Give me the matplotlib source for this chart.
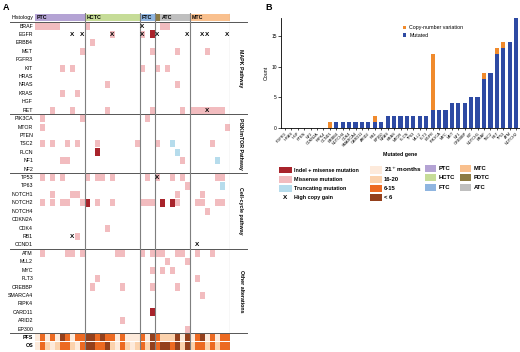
import matplotlib
matplotlib.use("Agg")
import matplotlib.pyplot as plt
from matplotlib.patches import Rectangle

plt.rcParams['font.family'] = ['Liberation Sans', 'DejaVu Sans']

W, H = 520, 352

# ---- panel A data ----
genes = ["BRAF", "EGFR", "ERBB4", "MET", "FGFR3", "KIT", "HRAS", "NRAS", "KRAS", "HGF", "RET",
         "PIK3CA", "MTOR", "PTEN", "TSC2", "FLCN", "NF1", "NF2",
         "TP53", "TP63", "NOTCH1", "NOTCH2", "NOTCH4", "CDKN2A", "CDK4", "RB1", "CCND1",
         "ATM", "MLL2", "MYC", "FLT3", "CREBBP", "SMARCA4", "RIPK4", "CARD11", "ARID2", "EP300"]
pathways = ["MAPK Pathway", "PI3K/mTOR Pathway", "Cell-cycle pathway", "Other alterations"]
pathway_sizes = [11, 7, 9, 10]
histology = ["PTC", "HCTC", "FTC", "PDTC", "ATC", "MTC"]
histology_n = [10, 11, 3, 1, 6, 8]

# sample columns with each alteration
missense = {
    "BRAF": [0, 1, 2, 3, 4, 10, 25, 26],
    "EGFR": [15, 21],
    "ERBB4": [11],
    "MET": [9, 23, 28, 34],
    "KIT": [5, 7, 21, 24, 26],
    "NRAS": [14, 28],
    "KRAS": [5, 8],
    "RET": [3, 7, 14, 23, 29, 31, 32, 33, 34, 35, 36, 37],
    "PIK3CA": [1, 9, 22],
    "MTOR": [1, 38],
    "TSC2": [1, 3, 6, 8, 12, 20, 24, 35],
    "NF1": [5, 6, 29],
    "TP53": [1, 3, 5, 10, 12, 13, 15, 22, 24, 27, 29, 36, 37],
    "TP63": [30],
    "NOTCH1": [3, 7, 8, 28, 33],
    "NOTCH2": [1, 3, 5, 6, 9, 12, 15, 21, 22, 23, 28, 32, 33, 36, 37],
    "NOTCH4": [34],
    "CDK4": [14],
    "RB1": [8],
    "ATM": [1, 6, 7, 9, 16, 17, 21, 23, 24, 25, 28, 29, 32, 35],
    "MLL2": [26, 30],
    "MYC": [23, 25, 27],
    "FLT3": [12, 32],
    "CREBBP": [11, 17, 23, 28],
    "SMARCA4": [33],
    "ARID2": [17],
    "EP300": [30],
}
indel = {"EGFR": [23], "FLCN": [12], "NOTCH2": [10, 25, 27], "CARD11": [23]}
truncating = {"TSC2": [27], "FLCN": [28], "NF1": [36], "TP63": [37]}
copy_gain = {"BRAF": [21], "EGFR": [7, 9, 15, 21, 24, 30, 33, 34, 38], "RET": [34],
             "TP53": [24], "RB1": [7], "CCND1": [32]}

# survival class per sample: 0 = 21+ months, 1 = 16-20, 2 = 6-15, 3 = < 6
pfs = [0, 2, 0, 2, 0, 3, 2, 0, 2, 2, 3, 3, 2, 3, 2, 2, 0, 2, 0, 0,
       0, 2, 0, 3, 2, 1, 1, 1, 3, 0, 3, 0, 2, 3, 0, 2, 0, 2, 2]
os_ = [0, 2, 1, 0, 1, 2, 2, 1, 0, 2, 3, 3, 2, 2, 3, 1, 0, 2, 1, 0,
       1, 2, 1, 3, 2, 3, 3, 2, 3, 1, 3, 1, 2, 2, 1, 2, 1, 2, 2]
surv_labels = ["21$^{+}$ months", "16-20", "6-15", "< 6"]

# ---- panel B data ----
bar_genes = ["FGFR3", "HRAS", "HGF", "PTEN", "NF2", "CDKN2A", "RIPK4", "CCND1",
             "ERBB4", "NOTCH4", "CDK4", "SMARCA4", "CARD11", "ARID2", "RB1", "EP300",
             "NRAS", "KRAS", "MTOR", "FLCN", "TP63", "MLL2", "FLT3", "EGFR",
             "PIK3CA", "MYC", "MET", "NF1", "CREBBP", "KIT", "NOTCH1",
             "BRAF", "TSC2", "RET", "TP53", "ATM", "NOTCH2"]
bar_mutated = [0, 0, 0, 0, 0, 0, 0, 0, 1, 1, 1, 1, 1, 1, 1, 1,
               2, 2, 2, 2, 2, 2, 2, 3, 3, 3, 4, 4, 4, 5, 5, 8, 9, 12, 13, 14, 18]
bar_cnv = [0, 0, 0, 0, 0, 0, 0, 1, 0, 0, 0, 0, 0, 0, 1, 0,
           0, 0, 0, 0, 0, 0, 0, 9, 0, 0, 0, 0, 0, 0, 0, 1, 0, 1, 1, 0, 0]

# colours
c_miss, c_indel, c_trunc = "#f2bcbf", "#a8232b", "#b6dcec"
surv_colors = ["#fdeadb", "#fbd2ad", "#ec6a22", "#94401c"]
hist_colors = {"PTC": "#b4a3d4", "HCTC": "#c6dc98", "FTC": "#8fb5e0",
               "PDTC": "#8c7b44", "ATC": "#bfbfbf", "MTC": "#f9c08e"}
c_blue, c_orange = "#2e4aa3", "#f08a2c"

fig = plt.figure(figsize=(W / 100, H / 100), dpi=100)


def fx(px):
    return px / W


def fy(py):
    return 1 - py / H


# ---------------- panel A ----------------
x0, cw, y0, rh = 35, 5.0, 26.0, 8.42
ncol = sum(histology_n)
axA = fig.add_axes([fx(x0), fy(y0 + rh * 38.5), cw * ncol / W, rh * 40 / H])
axA.set_xlim(0, ncol)
axA.set_ylim(38.5, -1.5)
axA.axis('off')

row = {g: i for i, g in enumerate(genes)}


def cell(c, r, color, h=0.84):
    axA.add_patch(Rectangle((c, r - h / 2), 1, h, fc=color, ec='none', zorder=2))


for g, cols in missense.items():
    for c in cols:
        cell(c, row[g], c_miss)
for g, cols in truncating.items():
    for c in cols:
        cell(c, row[g], c_trunc)
for g, cols in indel.items():
    for c in cols:
        cell(c, row[g], c_indel, h=0.95)
for g, cols in copy_gain.items():
    for c in cols:
        axA.text(c + 0.5, row[g], "X", ha='center', va='center', fontsize=4.6,
                 fontweight='bold', zorder=4)

for c, v in enumerate(pfs):
    cell(c, 37, surv_colors[v], h=0.92)
for c, v in enumerate(os_):
    cell(c, 38, surv_colors[v], h=0.92)

# histology header
start = 0
bounds = []
for name, n in zip(histology, histology_n):
    axA.add_patch(Rectangle((start, -1.45), n, 0.9, fc=hist_colors[name], ec='none'))
    if n > 1:
        axA.text(start + 0.3, -1.0, name, fontsize=3.8, fontweight='bold',
                 ha='left', va='center')
    start += n
    bounds.append((name, start))
for name, b in bounds:
    if name != "PDTC":
        axA.plot([b, b], [-1.5, 38.5], color='#7f7f7f', lw=0.8, zorder=3)

# labels
axA.text(-0.4, -1.0, "Histology", ha='right', va='center', fontsize=3.8)
for g, r in row.items():
    axA.text(-0.4, r, g, ha='right', va='center', fontsize=3.8)
axA.text(-0.4, 37, "PFS", ha='right', va='center', fontsize=3.8, fontweight='bold')
axA.text(-0.4, 38, "OS", ha='right', va='center', fontsize=3.8, fontweight='bold')

# pathway separators and labels
axA.plot([-5, 42.4], [-0.5, -0.5], color='#555555', lw=0.7, clip_on=False)
top = 0
for name, n in zip(pathways, pathway_sizes):
    axA.plot([-5, 42.4], [top + n - 0.5] * 2, color='#555555', lw=0.7, clip_on=False)
    axA.text(41.2, top + (n - 1) / 2, name, rotation=-90, ha='center', va='center',
             fontsize=3.8, fontweight='bold')
    top += n

# ---------------- panel B ----------------
axB = fig.add_axes([fx(281), fy(128), (520 - 281) / W, (128 - 17.6) / H])
xs = range(len(bar_genes))
axB.bar(xs, bar_mutated, width=0.66, color=c_blue, label="Mutated")
axB.bar(xs, bar_cnv, width=0.66, bottom=bar_mutated, color=c_orange,
        label="Copy-number variation")
axB.set_xlim(-0.6, len(bar_genes) - 0.4)
axB.set_ylim(0, 18)
axB.set_yticks([0, 5, 10, 15])
axB.set_xticks(list(xs))
axB.set_xticklabels(bar_genes, rotation=45, ha='right', rotation_mode='anchor',
                    fontsize=2.8)
axB.tick_params(axis='y', labelsize=3.5, length=2, width=0.5, pad=1)
axB.tick_params(axis='x', length=1.5, width=0.5, pad=1)
for s in ['top', 'right']:
    axB.spines[s].set_visible(False)
for s in ['left', 'bottom']:
    axB.spines[s].set_linewidth(0.6)
axB.set_ylabel("Count", fontsize=3.8, labelpad=2)
axB.set_xlabel("Mutated gene", fontsize=3.8, fontweight='bold', labelpad=3)
h, l = axB.get_legend_handles_labels()
axB.legend(h[::-1], l[::-1], loc='upper left', bbox_to_anchor=(0.5, 0.95),
           frameon=False, fontsize=3.8, handlelength=0.7, handleheight=0.7,
           handletextpad=0.6, labelspacing=0.5, borderaxespad=0)

# ---------------- overlay: panel letters + bottom legend ----------------
ov = fig.add_axes([0, 0, 1, 1])
ov.set_xlim(0, W)
ov.set_ylim(H, 0)
ov.axis('off')
ov.text(3, 8, "A", fontsize=6.5, fontweight='bold', va='center')
ov.text(265, 8, "B", fontsize=6.5, fontweight='bold', va='center')

mut_items = [("Indel + misense mutation", c_indel), ("Missense mutation", c_miss),
             ("Truncating mutation", c_trunc)]
ys = [170, 179.3, 188.3, 197.3]
for (lab, col), y in zip(mut_items, ys):
    ov.add_patch(Rectangle((279, y - 3.4), 13, 6.8, fc=col, ec='none'))
    ov.text(294, y, lab, fontsize=3.9, fontweight='bold', va='center')
ov.text(285.5, ys[3], "X", fontsize=4.6, fontweight='bold', ha='center', va='center')
ov.text(294, ys[3], "High copy gain", fontsize=3.9, fontweight='bold', va='center')

for i, (lab, col) in enumerate(zip(surv_labels, surv_colors)):
    y = ys[i]
    ov.add_patch(Rectangle((370, y - 3.8), 12, 7.6, fc=col, ec='none'))
    ov.text(384, y, lab, fontsize=4.6 if i == 0 else 4.2, fontweight='bold',
            va='center')

hist_cols = [["PTC", "HCTC", "FTC"], ["MTC", "PDTC", "ATC"]]
for xs0, names in zip([425, 460], hist_cols):
    for j, name in enumerate(names):
        y = 168.5 + 9.3 * j
        ov.add_patch(Rectangle((xs0, y - 3.6), 11, 7.2, fc=hist_colors[name], ec='none'))
        ov.text(xs0 + 13.5, y, name, fontsize=4.2, fontweight='bold', va='center')

fig.savefig("out.png", dpi=100)
